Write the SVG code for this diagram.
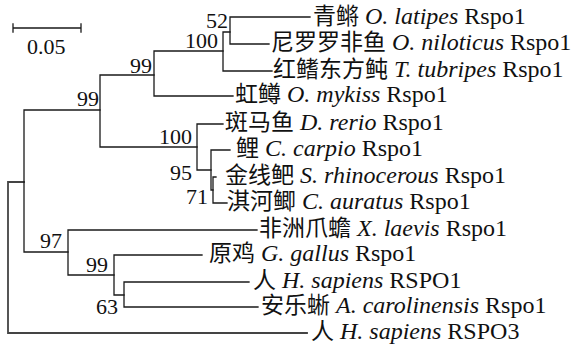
<svg xmlns="http://www.w3.org/2000/svg" width="574" height="344" viewBox="0 0 574 344" font-family="'Liberation Serif', 'Times New Roman', 'Noto Sans CJK SC', serif">
<style>
text{font-family:"Liberation Serif","Times New Roman","Noto Sans CJK SC",serif;font-size:22px;fill:#111}
.lf{font-size:24px}
.cj{font-size:23px}
.bs{text-anchor:end}
.it{font-style:italic}
.br{fill:none;stroke:#1a1a1a;stroke-width:1.3;stroke-linecap:square}
.rt{fill:none;stroke:#444;stroke-width:1.8;stroke-linecap:square}
</style>
<rect width="574" height="344" fill="#fff"/>
<g id="scale">
<path class="br" d="M13,28H81M13,24V32M81,24V32"/>
<text x="27" y="54">0.05</text>
</g>
<g id="connectors">
<path class="rt" d="M24,182H8V333H307"/>
<path class="br" d="M24,110V252M24,110H100M24,252H68"/>
<path class="br" d="M100,75V147M100,75H154M100,147H197"/>
<path class="br" d="M154,51V96M154,51H223M154,96H233"/>
<path class="br" d="M223,32V71M223,32H230M223,71H272"/>
<path class="br" d="M230,17V44M230,17H310M230,44H269"/>
<path class="br" d="M197,124V170M197,124H223M197,170H211"/>
<path class="br" d="M211,150V190M211,150H230M211,190H213"/>
<path class="br" d="M213,177V203M213,177H216M213,203H227"/>
<path class="br" d="M68,230V275M68,230H257M68,275H114"/>
<path class="br" d="M114,255V295M114,255H202M114,295H124"/>
<path class="br" d="M124,282V307M124,282H249M124,307H258"/>
</g>
<g id="n52"><text class="bs" x="228" y="28">52</text></g>
<g id="n100a"><text class="bs" x="218" y="48">100</text></g>
<g id="n99a"><text class="bs" x="152" y="73">99</text></g>
<g id="n99b"><text class="bs" x="99" y="106">99</text></g>
<g id="n100b"><text class="bs" x="192" y="144">100</text></g>
<g id="n95"><text class="bs" x="192" y="180">95</text></g>
<g id="n71"><text class="bs" x="208" y="204">71</text></g>
<g id="n97"><text class="bs" x="62" y="248">97</text></g>
<g id="n99c"><text class="bs" x="108" y="272">99</text></g>
<g id="n63"><text class="bs" x="118" y="314">63</text></g>
<g id="leaf1"><text class="lf" x="313" y="24"><tspan class="cj">青鳉</tspan> <tspan class="it">O. latipes</tspan> Rspo1</text></g>
<g id="leaf2"><text class="lf" x="271" y="50"><tspan class="cj">尼罗罗非鱼</tspan> <tspan class="it">O. niloticus</tspan> Rspo1</text></g>
<g id="leaf3"><text class="lf" x="273" y="77"><tspan class="cj">红鳍东方鲀</tspan> <tspan class="it">T. tubripes</tspan> Rspo1</text></g>
<g id="leaf4"><text class="lf" x="235" y="102"><tspan class="cj">虹鳟</tspan> <tspan class="it">O. mykiss</tspan> Rspo1</text></g>
<g id="leaf5"><text class="lf" x="225" y="130"><tspan class="cj">斑马鱼</tspan> <tspan class="it">D. rerio</tspan> Rspo1</text></g>
<g id="leaf6"><text class="lf" x="236" y="156"><tspan class="cj">鲤</tspan> <tspan class="it">C. carpio</tspan> Rspo1</text></g>
<g id="leaf7"><text class="lf" x="225" y="183"><tspan class="cj">金线鲃</tspan> <tspan class="it">S. rhinocerous</tspan> Rspo1</text></g>
<g id="leaf8"><text class="lf" x="227" y="209"><tspan class="cj">淇河鲫</tspan> <tspan class="it">C. auratus</tspan> Rspo1</text></g>
<g id="leaf9"><text class="lf" x="259" y="236"><tspan class="cj">非洲爪蟾</tspan> <tspan class="it">X. laevis</tspan> Rspo1</text></g>
<g id="leaf10"><text class="lf" x="209" y="261"><tspan class="cj">原鸡</tspan> <tspan class="it">G. gallus</tspan> Rspo1</text></g>
<g id="leaf11"><text class="lf" x="253" y="288"><tspan class="cj">人</tspan> <tspan class="it">H. sapiens</tspan> RSPO1</text></g>
<g id="leaf12"><text class="lf" x="261" y="313"><tspan class="cj">安乐蜥</tspan> <tspan class="it">A. carolinensis</tspan> Rspo1</text></g>
<g id="leaf13"><text class="lf" x="311" y="339"><tspan class="cj">人</tspan> <tspan class="it">H. sapiens</tspan> RSPO3</text></g>
</svg>
